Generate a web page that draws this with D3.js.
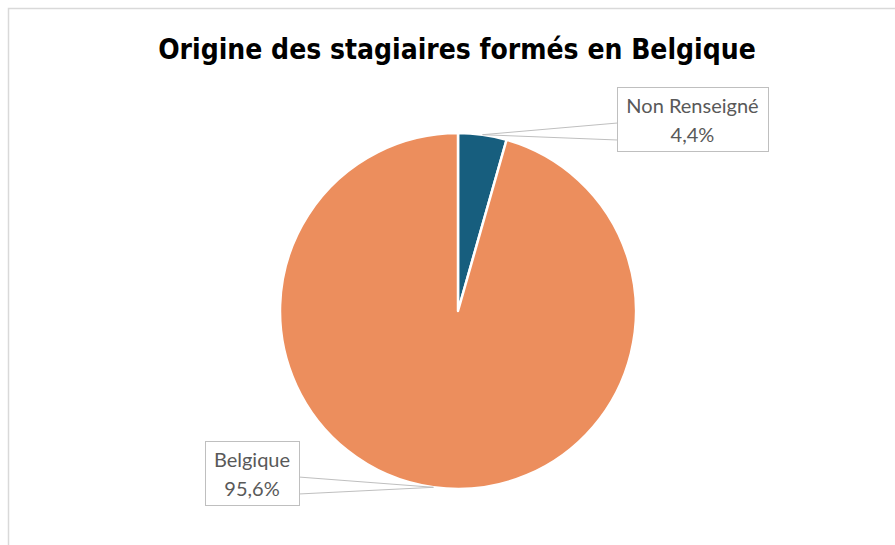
<!DOCTYPE html>
<html>
<head>
<meta charset="utf-8">
<script src="https://cdn.jsdelivr.net/npm/d3@7"></script>
<style>
  html, body { margin: 0; padding: 0; background: #fff; }
  svg { display: block; }
</style>
</head>
<body>
<div id="app"></div>
<script>
// données
const categories = ['Non Renseigné', 'Belgique'];
const values = [4.4, 95.6];
const valueLabels = ['4,4%', '95,6%'];
const title = 'Origine des stagiaires formés en Belgique';
const colors = ['#175e7e', '#ec8e5d'];

const width = 895;
const height = 545;

// centre et rayon du camembert
const cx = 458, cy = 311, radius = 178;

// position des étiquettes (boîtes)
const boxes = [
    { x: 617, y: 87, w: 151, h: 64, side: 'left' },
    { x: 205, y: 441, w: 94, h: 64, side: 'right' }
];

let svg = d3.select('#app').append('svg')
    .attr('width', width)
    .attr('height', height);

// cadre du graphique
svg.append('rect')
    .attr('x', 8.5).attr('y', 8.5)
    .attr('width', width + 20).attr('height', height + 20)
    .attr('fill', '#fff')
    .attr('stroke', '#d9d9d9')
    .attr('stroke-width', 1.5);

// titre
svg.append('text')
    .attr('x', 457).attr('y', 59)
    .attr('text-anchor', 'middle')
    .attr('font-family', '"DejaVu Sans Condensed", "DejaVu Sans", sans-serif')
    .attr('font-stretch', 'condensed')
    .attr('font-weight', 'bold')
    .attr('font-size', 28)
    .attr('fill', '#000')
    .text(title);

let pie = d3.pie().sort(null).value(d => d)(values);
let arc = d3.arc().innerRadius(0).outerRadius(radius);

let g = svg.append('g').attr('transform', `translate(${cx}, ${cy})`);
g.selectAll('path')
    .data(pie)
    .enter()
    .append('path')
    .attr('d', arc)
    .attr('fill', (d, i) => colors[i])
    .attr('stroke', '#fff')
    .attr('stroke-width', 2.5)
    .attr('stroke-linejoin', 'round');

// étiquettes avec bulles
pie.forEach((d, i) => {
    let mid = (d.startAngle + d.endAngle) / 2;
    let tx = cx + radius * Math.sin(mid);
    let ty = cy - radius * Math.cos(mid);
    let b = boxes[i];
    let ex = b.side === 'left' ? b.x + 0.5 : b.x + b.w - 0.5;
    let p1 = [ex, b.y + 36];
    let p2 = [ex, b.y + 53];
    svg.append('path')
        .attr('d', `M${p1[0]},${p1[1]}L${tx},${ty}L${p2[0]},${p2[1]}`)
        .attr('fill', '#fff')
        .attr('stroke', '#bfbfbf')
        .attr('stroke-width', 1);
    svg.append('rect')
        .attr('x', b.x + 0.5).attr('y', b.y + 0.5)
        .attr('width', b.w).attr('height', b.h)
        .attr('fill', '#fff')
        .attr('stroke', '#bfbfbf')
        .attr('stroke-width', 1);
    let t = svg.append('text')
        .attr('text-anchor', 'middle')
        .attr('font-family', 'Lato, sans-serif')
        .attr('font-size', 20)
        .attr('fill', '#595959');
    t.append('tspan').attr('x', b.x + b.w / 2).attr('y', b.y + 26).text(categories[i]);
    t.append('tspan').attr('x', b.x + b.w / 2).attr('y', b.y + 55).text(valueLabels[i]);
});
</script>
</body>
</html>
